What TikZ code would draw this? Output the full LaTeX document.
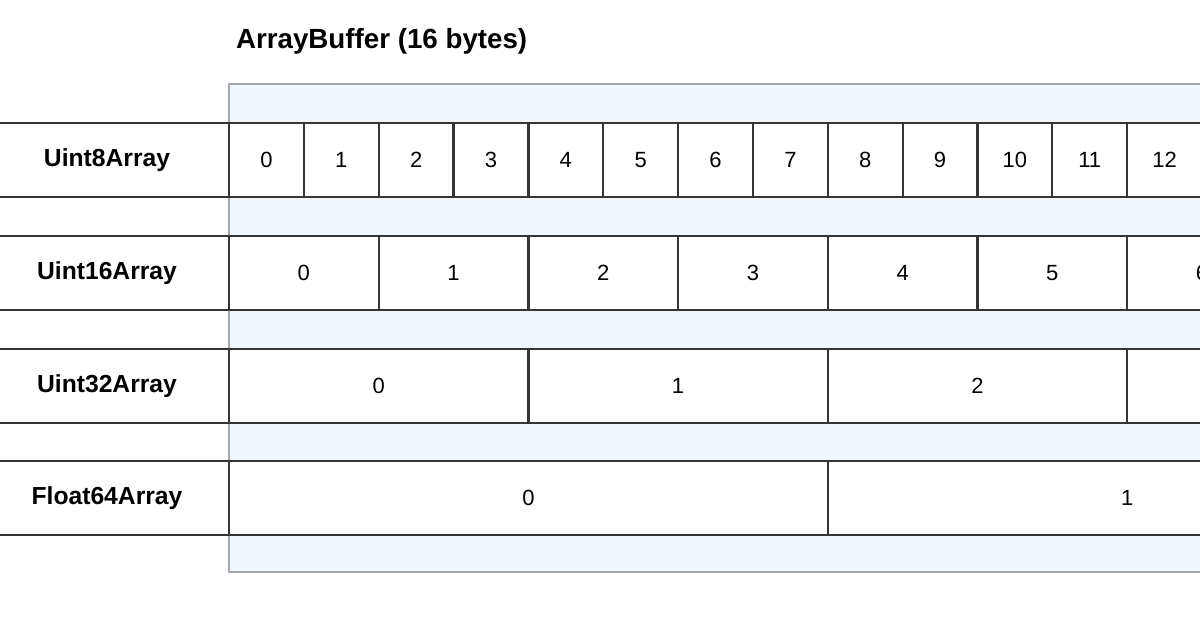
\documentclass[tikz,border=0pt]{standalone}
\usepackage{fontspec}
\setmainfont{Liberation Sans}
\definecolor{bufblue}{HTML}{F1F6FB}
\definecolor{bufedge}{HTML}{A4A8AC}
\definecolor{cellline}{HTML}{353535}

\begin{document}
\begin{tikzpicture}[x=0.75pt, y=-0.75pt,
  every node/.style={inner sep=0pt, outer sep=0pt},
  cell/.style={draw=cellline, line width=1.7pt, fill=white, minimum height=55.5pt, font=\fontsize{16.5}{18}\selectfont},
  rowlabel/.style={draw=cellline, line width=1.7pt, fill=white, minimum width=183pt, minimum height=55.5pt, font=\bfseries\fontsize{18.5}{20}\selectfont}]
\useasboundingbox (0,0) rectangle (1200,628);
\clip (0,0) rectangle (1200,628);
\node[anchor=base west, font=\bfseries\fontsize{20.8}{22}\selectfont] (title) at (236,48) {ArrayBuffer (16 bytes)};
\draw[draw=bufedge, line width=1pt, fill=bufblue] (229,84) rectangle (1430,572);
\foreach \lab/\k/\y/\nm in {Uint8Array/1/160/ua, Uint16Array/2/273/ub, Uint32Array/4/386/uc, Float64Array/8/498/fa} {
  \node[rowlabel] (\nm) at (107,\y) {\lab};
  \pgfmathtruncatemacro\last{16/\k-1}
  \foreach \i in {0,...,\last}
    \node[cell, minimum width=\k*56.14pt] (\nm c\i) at ({229+74.85*\k*(\i+0.5)},\y) {\i};
}
\end{tikzpicture}
\end{document}
